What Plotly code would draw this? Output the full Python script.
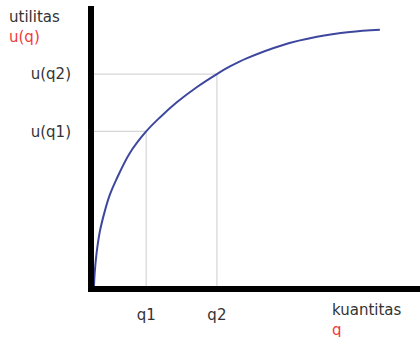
import plotly.graph_objects as go

# Curve (quantity q vs utility u)
curve_q = [0.0, 0.02, 0.08, 0.18, 0.34, 0.49, 0.68, 1.10, 1.60, 2.03, 2.54, 3.15, 3.77, 4.17, 4.68, 5.80, 6.84, 7.85, 8.77]
curve_u = [0.0, 0.45, 1.18, 1.95, 2.71, 3.27, 3.79, 4.75, 5.52, 6.03, 6.56, 7.10, 7.57, 7.84, 8.13, 8.61, 8.90, 9.07, 9.15]

# Marked points
q_vals = [1.60, 3.77]
q_labels = ["q1", "q2"]
u_vals = [5.52, 7.57]
u_labels = ["u(q1)", "u(q2)"]

FONT = "DejaVu Sans"
TXT = "#333333"
RED = "#f0393b"

fig = go.Figure()

# Guide lines
for q, u in zip(q_vals, u_vals):
    fig.add_trace(go.Scatter(
        x=[0, q, q], y=[u, u, 0], mode="lines",
        line=dict(color="#d6d6d6", width=1.2),
        hoverinfo="skip", showlegend=False))

# Utility curve
fig.add_trace(go.Scatter(
    x=curve_q, y=curve_u, mode="lines",
    line=dict(color="#3d479e", width=2, shape="spline", smoothing=1.0),
    showlegend=False, cliponaxis=False))

fig.update_layout(
    width=420, height=337,
    margin=dict(l=94, r=0, t=6, b=51),
    paper_bgcolor="white", plot_bgcolor="white",
    font=dict(family=FONT, size=15, color=TXT),
    xaxis=dict(range=[0, 10], showgrid=False, zeroline=False,
               showline=True, linewidth=6, linecolor="black",
               tickvals=q_vals, ticktext=q_labels, ticks="",
               ticklabelstandoff=10,
               tickfont=dict(family=FONT, size=15, color=TXT)),
    yaxis=dict(range=[0, 10], showgrid=False, zeroline=False,
               showline=True, linewidth=6, linecolor="black",
               tickvals=u_vals, ticktext=u_labels, ticks="",
               ticklabelstandoff=14,
               tickfont=dict(family=FONT, size=15, color=TXT)),
    annotations=[
        dict(xref="paper", yref="paper", x=-0.268, y=1.0,
             xanchor="left", yanchor="top", align="left", showarrow=False,
             text="utilitas<br><span style='color:%s'>u(q)</span>" % RED,
             font=dict(family=FONT, size=15, color=TXT)),
        dict(xref="paper", yref="paper", x=0.725, y=-0.048,
             xanchor="left", yanchor="top", align="left", showarrow=False,
             text="kuantitas<br><span style='color:%s'>q</span>" % RED,
             font=dict(family=FONT, size=15, color=TXT)),
    ],
)

fig.write_html("out.html", config={"displayModeBar": False},
               post_script="document.body.style.margin='0';")
